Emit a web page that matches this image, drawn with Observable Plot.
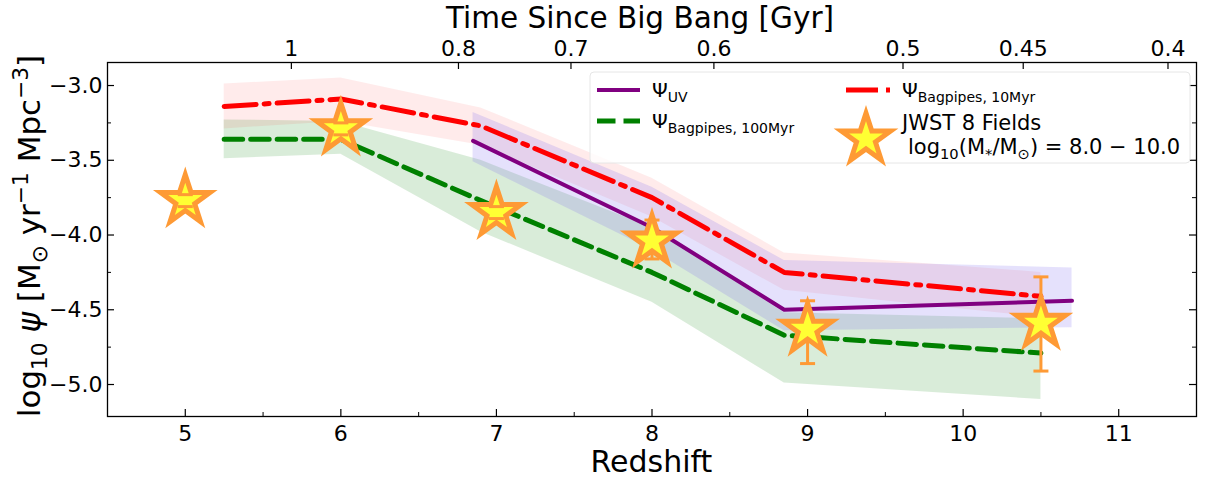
<!DOCTYPE html>
<html><head><meta charset="utf-8">
<script src="https://cdn.jsdelivr.net/npm/d3@7"></script>
<script src="https://cdn.jsdelivr.net/npm/@observablehq/plot@0.6"></script>
<style>body{margin:0;background:#fff;} #chart{width:1205px;height:477px;}</style>
</head><body><div id="chart"></div>
<script>
// ---- data ----
const bpZ = [5.25, 6.0, 6.9, 8.0, 8.85, 10.5];
const bp10 = [-3.14, -3.09, -3.27, -3.75, -4.25, -4.41];
const bp10Hi = [-2.99, -2.95, -3.15, -3.62, -4.12, -4.25];
const bp10Lo = [-3.29, -3.24, -3.40, -3.88, -4.37, -4.55];
const bp100 = [-3.36, -3.36, -3.77, -4.25, -4.67, -4.79];
const bp100Hi = [-3.23, -3.24, -3.50, -3.95, -4.52, -4.56];
const bp100Lo = [-3.49, -3.46, -3.98, -4.45, -4.99, -5.10];
const uvZ = [6.85, 8.0, 8.85, 10.7];
const uv = [-3.37, -3.95, -4.50, -4.44];
const uvHi = [-3.18, -3.68, -4.17, -4.22];
const uvLo = [-3.51, -4.10, -4.64, -4.62];
const jwstZ = [5, 6, 7, 8, 9, 10.5];
const jwst = [-3.77, -3.29, -3.85, -4.04, -4.63, -4.59];
const jwstHi = [-3.73, -3.25, -3.81, -3.90, -4.44, -4.28];
const jwstLo = [-3.81, -3.33, -3.89, -4.16, -4.86, -4.91];
const xTicks = [5, 6, 7, 8, 9, 10, 11];
const xMinor = [5.5, 6.5, 7.5, 8.5, 9.5, 10.5];
const yTicks = [-3.0, -3.5, -4.0, -4.5, -5.0];
const yMinor = [-3.25, -3.75, -4.25, -4.75];
const ageTicks = [1, 0.8, 0.7, 0.6, 0.5, 0.45, 0.4];
const ageLabels = ["1", "0.8", "0.7", "0.6", "0.5", "0.45", "0.4"];

// flat LCDM: redshift at a given cosmic age (Gyr)
const H0 = 67.7, Om = 0.31, OL = 0.69;
const tH = 977.8 / H0;
function zAtAge(t) {
  const A = 2 / (3 * Math.sqrt(OL)) * tH;
  return Math.pow(Math.sinh(t / A) / Math.sqrt(OL / Om), -2 / 3) - 1;
}
const ageZ = ageTicks.map(zAtAge);
const ageLabelMap = new Map(ageZ.map((z, i) => [z, ageLabels[i]]));

const rows = (zs, v, lo, hi) => zs.map((z, i) => ({z, v: v[i], lo: lo[i], hi: hi[i]}));
const bp10Rows = rows(bpZ, bp10, bp10Lo, bp10Hi);
const bp100Rows = rows(bpZ, bp100, bp100Lo, bp100Hi);
const uvRows = rows(uvZ, uv, uvLo, uvHi);
const jwstRows = rows(jwstZ, jwst, jwstLo, jwstHi);

// ---- layout ----
const W = 1205, H = 477, mL = 107, mR = 9, mT = 62, mB = 61;
const iW = W - mL - mR, iH = H - mT - mB;
const orange = "#fe9a35", yellow = "#ffff33";
const font = "DejaVu Sans, sans-serif";
const capSymbol = {draw(ctx) { ctx.moveTo(-7.5, 0); ctx.lineTo(7.5, 0); }};
const fmtY = d => d.toFixed(1).replace("-", "\u2212");

const svg = Plot.plot({
  width: W, height: H,
  marginLeft: mL, marginRight: mR, marginTop: mT, marginBottom: mB,
  style: {fontFamily: font, background: "white", color: "black", overflow: "visible"},
  x: {domain: [4.5, 11.5], label: null},
  y: {domain: [-5.214, -2.846], label: null},
  marks: [
    Plot.areaY(bp100Rows, {x: "z", y1: "lo", y2: "hi", fill: "green", fillOpacity: 0.15}),
    Plot.areaY(bp10Rows, {x: "z", y1: "lo", y2: "hi", fill: "red", fillOpacity: 0.08}),
    Plot.areaY(uvRows, {x: "z", y1: "lo", y2: "hi", fill: "#7b68ee", fillOpacity: 0.2}),
    Plot.lineY(bp100Rows, {x: "z", y: "v", stroke: "green", strokeWidth: 5, strokeDasharray: "18.5,8"}),
    Plot.lineY(bp10Rows, {x: "z", y: "v", stroke: "red", strokeWidth: 5, strokeDasharray: "32,8,5,8"}),
    Plot.lineY(uvRows, {x: "z", y: "v", stroke: "purple", strokeWidth: 4}),
    Plot.ruleX(jwstRows, {x: "z", y1: "lo", y2: "hi", stroke: orange, strokeWidth: 3}),
    Plot.dot(jwstRows, {x: "z", y: "v", symbol: "star", r: 15.5, fill: yellow, stroke: orange, strokeWidth: 5, strokeLinejoin: "miter"}),
    Plot.dot(jwstRows, {x: "z", y: "lo", symbol: capSymbol, r: 5, stroke: orange, strokeWidth: 3}),
    Plot.dot(jwstRows, {x: "z", y: "hi", symbol: capSymbol, r: 5, stroke: orange, strokeWidth: 3}),
    Plot.frame({stroke: "black", strokeWidth: 1.3}),
    // inward ticks
    Plot.tickX(xTicks, {x: d => d, insetTop: iH - 7, stroke: "black", strokeWidth: 1.2}),
    Plot.tickX(xMinor, {x: d => d, insetTop: iH - 4, stroke: "black", strokeWidth: 1}),
    Plot.tickX(ageZ, {x: d => d, insetBottom: iH - 7, stroke: "black", strokeWidth: 1.2}),
    Plot.tickY(yTicks, {y: d => d, insetRight: iW - 7, stroke: "black", strokeWidth: 1.2}),
    Plot.tickY(yMinor, {y: d => d, insetRight: iW - 4, stroke: "black", strokeWidth: 1}),
    Plot.tickY(yTicks, {y: d => d, insetLeft: iW - 7, stroke: "black", strokeWidth: 1.2}),
    Plot.tickY(yMinor, {y: d => d, insetLeft: iW - 4, stroke: "black", strokeWidth: 1}),
    Plot.axisX(xTicks, {anchor: "bottom", tickSize: 0, tickPadding: 9, fontSize: 22, tickFormat: d => String(d), label: null}),
    Plot.axisX(ageZ, {anchor: "top", tickSize: 0, tickPadding: 7, fontSize: 22, tickFormat: d => ageLabelMap.get(d), label: null}),
    Plot.axisY(yTicks, {anchor: "left", tickSize: 0, tickPadding: 5, fontSize: 22, tickFormat: fmtY, label: null})
  ]
});
document.getElementById("chart").appendChild(svg);

// ---- rich text helpers ----
const s = d3.select(svg);
function rich(parent, x, y, fs, parts, attrs = {}) {
  const t = parent.append("text").attr("x", x).attr("y", y).attr("font-size", fs)
    .attr("font-family", font).attr("fill", "black").attr("text-anchor", "start");
  for (const [k, v] of Object.entries(attrs)) t.attr(k, v);
  let cur = 0;
  for (const p of parts) {
    const [str, kind] = typeof p === "string" ? [p, null] : p;
    const target = kind === "sub" ? 0.24 * fs : kind === "sup" ? -0.4 * fs : 0;
    const ts = t.append("tspan").text(str).attr("dy", target - cur);
    if (kind === "sub" || kind === "sup") ts.attr("font-size", fs * 0.7);
    if (kind === "it") ts.attr("font-style", "italic");
    cur = target;
  }
  return t;
}

// axis titles
rich(s, (mL + W - mR) / 2, 472, 30, ["Redshift"], {"text-anchor": "middle"});
rich(s, 640, 28, 29.5, ["Time Since Big Bang [Gyr]"], {"text-anchor": "middle"});
rich(s, 0, 0, 31, ["log", ["10", "sub"], " ", ["\u03c8", "it"], " [M", ["\u2299", "sub"], " yr", ["\u22121", "sup"], " Mpc", ["\u22123", "sup"], "]"],
  {"text-anchor": "middle", transform: `translate(40,236) rotate(-90)`});

// legend
const lg = s.append("g");
lg.append("rect").attr("x", 590).attr("y", 72).attr("width", 600).attr("height", 91)
  .attr("rx", 4).attr("fill", "white").attr("fill-opacity", 0.8).attr("stroke", "#e6e6e6");
lg.append("line").attr("x1", 597).attr("x2", 640).attr("y1", 90).attr("y2", 90)
  .attr("stroke", "purple").attr("stroke-width", 4);
rich(lg, 652, 97, 20, ["\u03a8", ["UV", "sub"]]);
lg.append("line").attr("x1", 846).attr("x2", 890).attr("y1", 90).attr("y2", 90)
  .attr("stroke", "red").attr("stroke-width", 5).attr("stroke-dasharray", "32,8,5,8");
rich(lg, 902, 97, 20, ["\u03a8", ["Bagpipes, 10Myr", "sub"]]);
lg.append("line").attr("x1", 597).attr("x2", 640).attr("y1", 121).attr("y2", 121)
  .attr("stroke", "green").attr("stroke-width", 5).attr("stroke-dasharray", "18.5,8");
rich(lg, 652, 128, 20, ["\u03a8", ["Bagpipes, 100Myr", "sub"]]);
lg.append("path").attr("transform", "translate(866,139)")
  .attr("d", d3.symbol(d3.symbolStar, 15.5 * 15.5 * Math.PI)())
  .attr("fill", yellow).attr("stroke", orange).attr("stroke-width", 5).attr("stroke-linejoin", "miter");
rich(lg, 902, 130, 21, ["JWST 8 Fields"]);
rich(lg, 908, 154, 21, ["log", ["10", "sub"], "(M", ["*", "sub"], "/M", ["\u2299", "sub"], ") = 8.0 \u2212 10.0"]);
</script>
</body></html>
